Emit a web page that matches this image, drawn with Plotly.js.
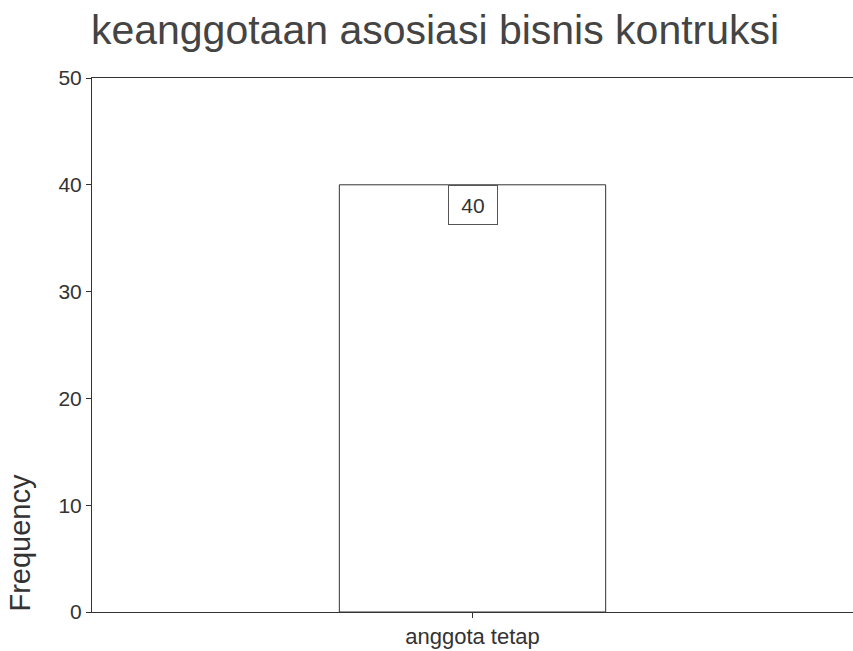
<!DOCTYPE html>
<html>
<head>
<meta charset="utf-8">
<script src="https://cdn.plot.ly/plotly-3.0.1.min.js"></script>
<style>html,body{margin:0;padding:0;background:#fff;}#chart{width:853px;height:651px;}</style>
</head>
<body>
<div id="chart"></div>
<script>
var categories = ["anggota tetap"];
var frequencies = [40];
var yTickValues = [0, 10, 20, 30, 40, 50];
var chartTitle = "keanggotaan asosiasi bisnis kontruksi";
var yTitle = "Frequency";

var FONT = "Liberation Sans, Arial, sans-serif";
var trace = {
  type: "bar",
  x: categories,
  y: frequencies,
  width: 0.35,
  marker: {color: "rgba(255,255,255,0)", line: {color: "#333", width: 1}},
  hoverinfo: "none"
};

var annotations = categories.map(function (c, i) {
  return {
    x: c, y: frequencies[i], xref: "x", yref: "y",
    text: String(frequencies[i]), showarrow: false,
    xanchor: "center", yanchor: "top",
    width: 44, height: 34, borderpad: 2,
    bordercolor: "#555", borderwidth: 1, bgcolor: "#fff",
    font: {family: FONT, size: 21, color: "#333"}
  };
});
annotations.push({
  text: yTitle, textangle: -90, showarrow: false,
  xref: "paper", yref: "paper", x: -0.094, y: 0.131,
  xanchor: "center", yanchor: "middle",
  font: {family: FONT, size: 29, color: "#333"}
});

var layout = {
  width: 853, height: 651,
  margin: {l: 92, r: 0, t: 78, b: 39},
  paper_bgcolor: "#fff", plot_bgcolor: "#fff",
  showlegend: false,
  title: {
    text: chartTitle, x: 0.51, xanchor: "center", xref: "container",
    y: 0.955, yanchor: "middle",
    font: {family: FONT, size: 41, color: "#444"}
  },
  xaxis: {
    type: "category", range: [-0.5, 0.5],
    showline: true, linecolor: "#333", linewidth: 1, mirror: true,
    ticks: "outside", ticklen: 5, tickcolor: "#333",
    showgrid: false, zeroline: false,
    tickfont: {family: FONT, size: 22, color: "#333"}
  },
  yaxis: {
    range: [0, 50], tickvals: yTickValues,
    showline: true, linecolor: "#333", linewidth: 1,
    ticks: "outside", ticklen: 5, tickcolor: "#333",
    showgrid: false, zeroline: false,
    tickfont: {family: FONT, size: 21, color: "#333"}
  },
  annotations: annotations
};

Plotly.newPlot("chart", [trace], layout, {displayModeBar: false, staticPlot: true});
</script>
</body>
</html>
